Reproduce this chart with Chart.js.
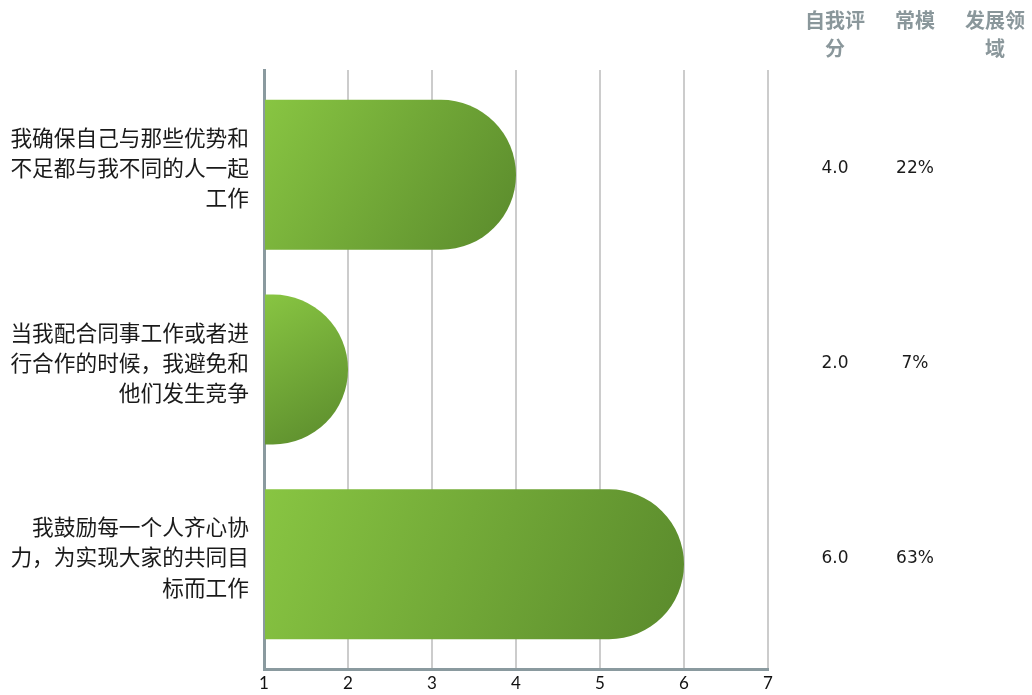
<!DOCTYPE html>
<html>
<head>
<meta charset="utf-8">
<script src="https://cdn.jsdelivr.net/npm/chart.js@4/dist/chart.umd.min.js"></script>
<style>
html,body{margin:0;padding:0;background:#fff;}
#wrap{width:1032px;height:695px;position:relative;}
</style>
</head>
<body>
<div id="wrap"><canvas id="c" width="1032" height="695"></canvas></div>
<script>
// ---- data ----
const categories = [
  ['我确保自己与那些优势和', '不足都与我不同的人一起', '工作'],
  ['当我配合同事工作或者进', '行合作的时候，我避免和', '他们发生竞争'],
  ['我鼓励每一个人齐心协', '力，为实现大家的共同目', '标而工作']
];
const selfScores = [4, 2, 6];
const selfScoreLabels = ['4.0', '2.0', '6.0'];
const normLabels = ['22%', '7%', '63%'];
const devLabels = ['', '', ''];
const headers = [['自我评', '分'], ['常模'], ['发展领', '域']];
const xTicks = [1, 2, 3, 4, 5, 6, 7];

const points = selfScores.map((v, i) => ({x: v, y: i}));

const pillBars = {
  id: 'pillBars',
  beforeDatasetDraw(chart, args) {
    const ctx = chart.ctx;
    const meta = args.meta;
    ctx.save();
    meta.data.forEach(el => {
      const p = el.getProps(['x', 'y', 'base', 'height'], true);
      const left = p.base, right = p.x;
      const h = p.height, top = p.y - h / 2, bottom = p.y + h / 2;
      const ry = h / 2;
      const rx = Math.min(ry, right - left);
      const g = ctx.createLinearGradient(left, top, right, bottom);
      g.addColorStop(0, '#88c542');
      g.addColorStop(1, '#5a8a2c');
      ctx.fillStyle = g;
      ctx.beginPath();
      ctx.moveTo(left, top);
      ctx.lineTo(right - rx, top);
      ctx.ellipse(right - rx, p.y, rx, ry, 0, -Math.PI / 2, Math.PI / 2);
      ctx.lineTo(left, bottom);
      ctx.closePath();
      ctx.fill();
    });
    ctx.restore();
    return false;
  }
};

const sideTable = {
  id: 'sideTable',
  afterDraw(chart) {
    const ctx = chart.ctx;
    const ys = chart.scales.y;
    const colX = [835, 915, 995];
    ctx.save();
    ctx.textAlign = 'center';
    ctx.textBaseline = 'middle';
    ctx.fillStyle = '#8a979b';
    ctx.font = 'bold 20px "Noto Sans CJK SC"';
    headers.forEach((lines, c) => {
      lines.forEach((t, k) => ctx.fillText(t, colX[c], 20 + k * 28));
    });
    ctx.fillStyle = '#1a1a1a';
    ctx.font = '17px "DejaVu Sans"';
    selfScoreLabels.forEach((t, i) => {
      const y = ys.getPixelForValue(i) - 6;
      ctx.fillText(t, colX[0], y);
      ctx.fillText(normLabels[i], colX[1], y);
      ctx.fillText(devLabels[i], colX[2], y);
    });
    ctx.restore();
  }
};

new Chart(document.getElementById('c'), {
  type: 'bar',
  data: {
    datasets: [{
      data: points,
      base: xTicks[0],
      backgroundColor: '#6fa536',
      barThickness: 150
    }]
  },
  options: {
    indexAxis: 'y',
    responsive: false,
    animation: false,
    events: [],
    layout: {padding: {top: 70, right: 264, left: 0, bottom: 0}},
    plugins: {legend: {display: false}, tooltip: {enabled: false}},
    scales: {
      x: {
        type: 'linear',
        min: xTicks[0],
        max: xTicks[xTicks.length - 1],
        afterBuildTicks(scale) { scale.ticks = xTicks.map(v => ({value: v})); },
        afterFit(scale) { scale.height = 26; scale.paddingLeft = 0; scale.paddingRight = 0; },
        grid: {color: '#cccccc', lineWidth: 2, drawTicks: false},
        border: {color: '#8a9a9f', width: 3},
        ticks: {
          padding: 4,
          color: '#111',
          font: {family: 'Lato', size: 17},
          callback: v => String(v)
        }
      },
      y: {
        type: 'linear',
        reverse: true,
        offset: false,
        min: -0.538,
        max: 2.538,
        z: 1,
        afterBuildTicks(scale) { scale.ticks = categories.map((c, i) => ({value: i})); },
        afterFit(scale) { scale.width = 264; scale.paddingTop = 0; scale.paddingBottom = 0; },
        grid: {display: false, drawTicks: false, offset: false},
        border: {display: true, color: '#8a9a9f', width: 3},
        ticks: {
          padding: 15,
          labelOffset: -7,
          color: '#1a1a1a',
          font: {family: '"Noto Sans CJK SC"', size: 21.7, lineHeight: 1.39},
          callback: (v) => categories[v] || ''
        }
      }
    }
  },
  plugins: [pillBars, sideTable]
});
</script>
</body>
</html>
